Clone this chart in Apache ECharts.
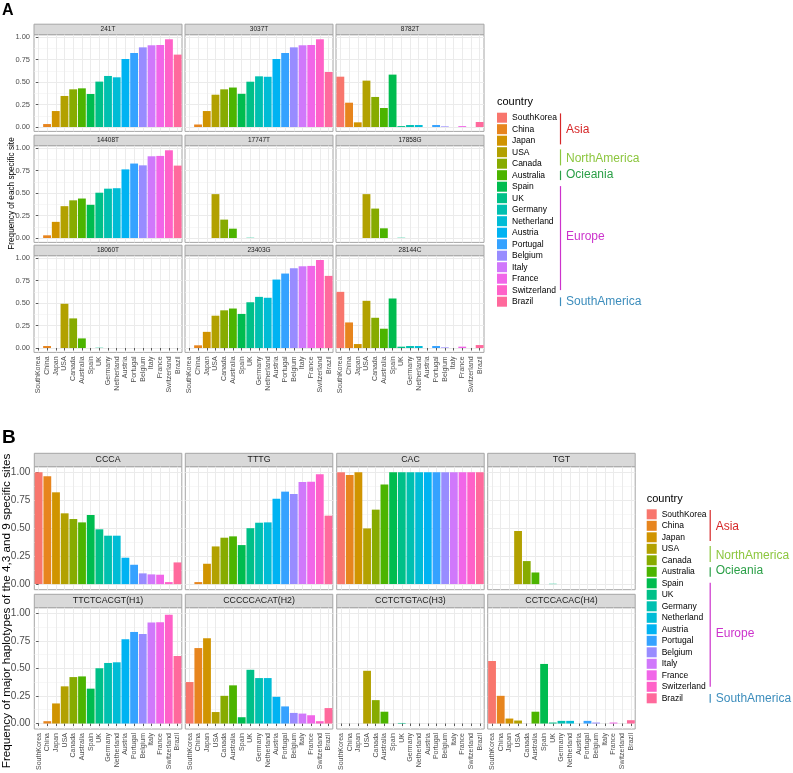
<!DOCTYPE html>
<html><head><meta charset="utf-8">
<script src="https://cdn.jsdelivr.net/npm/echarts@6/dist/echarts.min.js"></script>
<style>html,body{margin:0;padding:0;background:#fff}#c{width:793px;height:773px}</style>
</head><body><div id="c"></div>
<script>
// ---------- data ----------
const countries = ['SouthKorea','China','Japan','USA','Canada','Australia','Spain','UK','Germany','Netherland','Austria','Portugal','Belgium','Italy','France','Switzerland','Brazil'];
const regions = ['Asia','NorthAmerica','Ocieania','Europe','SouthAmerica'];
const yTicks = [0, 0.25, 0.5, 0.75, 1];
const yMinorTicks = [0.125, 0.375, 0.625, 0.875];

const sitesA = ['241T','3037T','8782T','14408T','17747T','17858G','18060T','23403G','28144C'];
const v241T   = [0, 0.033, 0.178, 0.346, 0.42, 0.431, 0.368, 0.506, 0.569, 0.554, 0.758, 0.825, 0.888, 0.911, 0.914, 0.978, 0.807];
const v3037T  = [0, 0.028, 0.178, 0.36, 0.42, 0.44, 0.37, 0.505, 0.565, 0.56, 0.758, 0.825, 0.888, 0.911, 0.914, 0.978, 0.613];
const v8782T  = [0.561, 0.271, 0.052, 0.517, 0.335, 0.212, 0.584, 0.01, 0.022, 0.022, 0, 0.022, 0.007, 0, 0.01, 0, 0.056];
const v14408T = [0, 0.03, 0.18, 0.355, 0.42, 0.44, 0.37, 0.505, 0.55, 0.555, 0.765, 0.83, 0.81, 0.911, 0.915, 0.978, 0.807];
const v17747T = [0, 0, 0, 0.489, 0.205, 0.104, 0, 0.003, 0, 0, 0, 0, 0, 0, 0, 0, 0];
const v17858G = [0, 0, 0, 0.489, 0.328, 0.108, 0, 0.003, 0, 0, 0, 0, 0, 0, 0, 0, 0];
const v18060T = [0, 0.022, 0, 0.493, 0.33, 0.107, 0, 0.003, 0, 0, 0, 0, 0, 0, 0, 0, 0];
const v23403G = [0, 0.03, 0.18, 0.36, 0.42, 0.44, 0.38, 0.51, 0.57, 0.56, 0.763, 0.83, 0.889, 0.911, 0.915, 0.981, 0.804];
const v28144C = [0.626, 0.285, 0.044, 0.526, 0.337, 0.215, 0.552, 0.015, 0.022, 0.022, 0, 0.022, 0.007, 0, 0.015, 0, 0.033];

const hapsB = ['CCCA','TTTG','CAC','TGT','TTCTCACGT(H1)','CCCCCACAT(H2)','CCTCTGTAC(H3)','CCTCCACAC(H4)'];
const hCCCA = [1.0, 0.964, 0.821, 0.633, 0.582, 0.552, 0.618, 0.49, 0.433, 0.433, 0.236, 0.173, 0.096, 0.087, 0.084, 0.018, 0.194];
const hTTTG = [0, 0.018, 0.182, 0.337, 0.415, 0.427, 0.349, 0.5, 0.549, 0.552, 0.764, 0.827, 0.806, 0.913, 0.916, 0.982, 0.612];
const hCAC  = [1, 0.976, 1, 0.498, 0.666, 0.89, 1, 1, 1, 1, 1, 1, 1, 1, 1, 1, 1];
const hTGT  = [0, 0, 0, 0.475, 0.206, 0.104, 0, 0.003, 0, 0, 0, 0, 0, 0, 0, 0, 0];
const hH1   = [0, 0.021, 0.182, 0.337, 0.421, 0.427, 0.316, 0.501, 0.549, 0.555, 0.764, 0.83, 0.812, 0.916, 0.919, 0.985, 0.612];
const hH2   = [0.376, 0.684, 0.773, 0.104, 0.251, 0.346, 0.057, 0.487, 0.412, 0.412, 0.242, 0.155, 0.096, 0.09, 0.075, 0.021, 0.14];
const hH3   = [0, 0, 0, 0.478, 0.212, 0.107, 0, 0.005, 0, 0, 0, 0, 0, 0, 0, 0, 0];
const hH4   = [0.567, 0.251, 0.045, 0.027, 0, 0.107, 0.54, 0.009, 0.024, 0.024, 0, 0.024, 0.009, 0, 0.009, 0, 0.03];

// ---------- styles / layout ----------
const colors = ['#F8766D','#E7851E','#D09400','#B2A100','#87AB00','#4CB400','#00BC4F','#00C088','#00C0B0','#00BCD6','#00B3F2','#35A2FF','#988CFF','#D078FB','#F166E8','#FF61C8','#FF699C'];
const regionColors = ['#D62728','#8CC63E','#2CA048','#CC33CC','#3C8DBC'];
const FONT = '"Liberation Sans", Arial, sans-serif';
const BORDER = '#A6A6A6';
const GRID = '#EBEBEB';

const LA = {cols:[34,185,336], w:148, rowTops:[34.7,145.7,255.7], h:96.7, strip:10.5, stripFont:6.5,
  yMin:-0.049, yMax:1.029, yLabelFont:7.5, xLabelFont:7, legendLeft:497, legendTop:112.7, legendFont:8.5};
const LB = {cols:[34.3,185.3,336.7,487.7], w:147.5, rowTops:[466.7,607.7], h:123, strip:13.4, stripFont:8.8,
  yMin:-0.05, yMax:1.05, yLabelFont:10, xLabelFont:7, legendLeft:646.7, legendTop:509.3, legendFont:8.5};
// region annotation geometry relative to legend top
const regionLineRel = [[0.7,31.7],[36.7,52.7],[58,67.4],[73.4,177.4],[184.7,193.4]];
const regionTextRel = [17.4,46,61.7,124,189];

const grids=[], xAxes=[], yAxes=[], series=[], graphics=[];

function addPanel(title, values, left, top, L, showX, showY) {
  const gi = grids.length;
  const w = L.w, h = L.h;
  grids.push({left:left, top:top, width:w, height:h, show:true, backgroundColor:'#fff', borderColor:BORDER, borderWidth:1});
  xAxes.push({type:'category', gridIndex:gi, data:countries, boundaryGap:true,
    axisLine:{show:false},
    axisTick:{show:showX, alignWithLabel:true, length:2.5, lineStyle:{color:'#333', width:0.8}},
    axisLabel:{show:showX, interval:0, rotate:90, margin:4, fontSize:L.xLabelFont, color:'#4D4D4D', fontFamily:FONT},
    splitLine:{show:false}});
  xAxes.push({type:'value', gridIndex:gi, min:-0.5, max:countries.length-0.5,
    axisLine:{show:false}, axisTick:{show:false, customValues:countries.map((c,i)=>i)},
    axisLabel:{show:false}, splitLine:{show:true, lineStyle:{color:GRID, width:1}}});
  yAxes.push({type:'value', gridIndex:gi, min:L.yMin, max:L.yMax,
    axisLine:{show:false},
    axisTick:{show:showY, length:2.5, customValues:yTicks, lineStyle:{color:'#333', width:0.8}},
    axisLabel:{show:showY, customValues:yTicks, formatter:v=>v.toFixed(2), margin:4, fontSize:L.yLabelFont, color:'#4D4D4D', fontFamily:FONT},
    splitLine:{show:true, lineStyle:{color:GRID, width:1}}});
  yAxes.push({type:'value', gridIndex:gi, min:L.yMin, max:L.yMax,
    axisLine:{show:false}, axisTick:{show:false, customValues:yMinorTicks},
    axisLabel:{show:false}, splitLine:{show:true, lineStyle:{color:'#F2F2F2', width:0.6}}});
  countries.forEach((c,ci)=>{
    series.push({type:'bar', name:c, xAxisIndex:2*gi, yAxisIndex:2*gi,
      data:[[ci, values[ci]]], barGap:'-100%', barCategoryGap:'10%',
      itemStyle:{color:colors[ci]}, silent:true, animation:false});
  });
  graphics.push({type:'rect', shape:{x:left, y:top-L.strip, width:w, height:L.strip},
    style:{fill:'#D9D9D9', stroke:BORDER, lineWidth:1}, silent:true});
  graphics.push({type:'text', x:left+w/2, y:top-L.strip/2, silent:true,
    style:{text:title, fontSize:L.stripFont, fontFamily:FONT, fill:'#1A1A1A', align:'center', verticalAlign:'middle'}});
}

const dataA = [v241T, v3037T, v8782T, v14408T, v17747T, v17858G, v18060T, v23403G, v28144C];
sitesA.forEach((s,i)=>{
  const r = Math.floor(i/3), c = i%3;
  addPanel(s, dataA[i], LA.cols[c], LA.rowTops[r], LA, r===2, c===0);
});
const dataB = [hCCCA, hTTTG, hCAC, hTGT, hH1, hH2, hH3, hH4];
hapsB.forEach((s,i)=>{
  const r = Math.floor(i/4), c = i%4;
  addPanel(s, dataB[i], LB.cols[c], LB.rowTops[r], LB, r===1, c===0);
});

function addLegendDecor(L) {
  graphics.push({type:'text', x:L.legendLeft, y:L.legendTop-10.5, silent:true,
    style:{text:'country', fontSize:11, fontFamily:FONT, fill:'#000', align:'left', verticalAlign:'middle'}});
  regions.forEach((rg,i)=>{
    const lx = L.legendLeft + 63.5;
    graphics.push({type:'line', silent:true,
      shape:{x1:lx, y1:L.legendTop+regionLineRel[i][0], x2:lx, y2:L.legendTop+regionLineRel[i][1]},
      style:{stroke:regionColors[i], lineWidth:1.2}});
    graphics.push({type:'text', x:L.legendLeft+69, y:L.legendTop+regionTextRel[i], silent:true,
      style:{text:rg, fontSize:12, fontFamily:FONT, fill:regionColors[i], align:'left', verticalAlign:'middle'}});
  });
}
addLegendDecor(LA);
addLegendDecor(LB);

// panel letters and y titles
graphics.push({type:'text', x:2, y:11, silent:true, style:{text:'A', fontSize:16, fontWeight:'bold', fontFamily:FONT, fill:'#000', align:'left', verticalAlign:'middle'}});
graphics.push({type:'text', x:2, y:437.5, silent:true, style:{text:'B', fontSize:19, fontWeight:'bold', fontFamily:FONT, fill:'#000', align:'left', verticalAlign:'middle'}});
graphics.push({type:'text', x:12, y:193.5, rotation:Math.PI/2, silent:true,
  style:{text:'Frequency of each specific site', fontSize:8.2, fontFamily:FONT, fill:'#000', align:'center', verticalAlign:'middle'}});
graphics.push({type:'text', x:7.2, y:611, rotation:Math.PI/2, silent:true,
  style:{text:'Frequency of major haplotypes of the 4,3 and 9 specific sites', fontSize:11.7, fontFamily:FONT, fill:'#000', align:'center', verticalAlign:'middle'}});

function legendFor(L) {
  return {data:countries, orient:'vertical', left:L.legendLeft, top:L.legendTop, padding:0,
    itemWidth:10, itemHeight:10, itemGap:1.5, icon:'rect', selectedMode:false,
    textStyle:{fontSize:L.legendFont, color:'#000', fontFamily:FONT}};
}

const chart = echarts.init(document.getElementById('c'), null, {renderer:'canvas'});
chart.setOption({
  animation:false,
  backgroundColor:'#fff',
  legend:[legendFor(LA), legendFor(LB)],
  grid:grids, xAxis:xAxes, yAxis:yAxes, series:series,
  graphic:{elements:graphics}
});
</script>
</body></html>
